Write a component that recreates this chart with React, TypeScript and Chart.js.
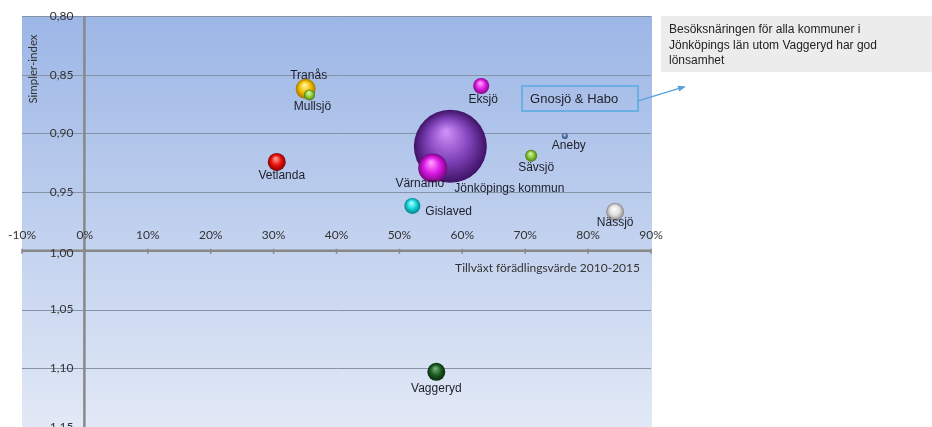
import React, { useEffect, useRef } from "react";
import { Chart, registerables } from "chart.js";

Chart.register(...registerables);

// ---- Data ----
const municipalities = [
  "Jönköpings kommun",
  "Värnamo",
  "Tranås",
  "Mullsjö",
  "Vetlanda",
  "Eksjö",
  "Aneby",
  "Sävsjö",
  "Gislaved",
  "Nässjö",
  "Vaggeryd",
];
// Tillväxt förädlingsvärde 2010-2015 (share)
const growth = [0.581, 0.553, 0.351, 0.357, 0.305, 0.63, 0.763, 0.7095, 0.5206, 0.843, 0.5587];
// Simpler-index
const simplerIndex = [0.911, 0.9295, 0.862, 0.8672, 0.9243, 0.8596, 0.9021, 0.9191, 0.9617, 0.9668, 1.103];
// Bubble size (radius)
const bubbleSize = [36.5, 14.5, 10, 5.5, 9, 8, 3, 6, 8, 9, 9];

const xTicks = [-0.1, 0, 0.1, 0.2, 0.3, 0.4, 0.5, 0.6, 0.7, 0.8, 0.9];
const yTicks = [0.8, 0.85, 0.9, 0.95, 1.0, 1.05, 1.1, 1.15];

const yAxisTitle = "Simpler-index";
const xAxisTitle = "Tillväxt förädlingsvärde 2010-2015";
const calloutText = "Gnosjö & Habo";
const noteLines = [
  "Besöksnäringen för alla kommuner i",
  "Jönköpings län utom Vaggeryd har god",
  "lönsamhet",
];

// ---- Styles ----
const palette: Record<string, [string, string, string]> = {
  "Jönköpings kommun": ["#cc8ef6", "#8244bb", "#3e1266"],
  "Värnamo": ["#ff9cff", "#dc18e6", "#76087e"],
  "Tranås": ["#fff4a8", "#f2c000", "#a37400"],
  "Mullsjö": ["#e2f8b0", "#8fcf3c", "#4b7812"],
  "Vetlanda": ["#ffa098", "#e8120c", "#860000"],
  "Eksjö": ["#ffa8ff", "#e41ee4", "#820688"],
  "Aneby": ["#c2d4ee", "#5c82b8", "#2b4a76"],
  "Sävsjö": ["#dcf7a4", "#86c43a", "#487810"],
  "Gislaved": ["#b8ffff", "#12d6da", "#067e88"],
  "Nässjö": ["#ffffff", "#dedede", "#858585"],
  "Vaggeryd": ["#78b27a", "#1c5e22", "#08280a"],
};

// label offsets relative to bubble centre: [dx, dy, align]
const labelPlacement: Record<string, [number, number, CanvasTextAlign]> = {
  "Jönköpings kommun": [59, 42, "center"],
  "Värnamo": [-13, 16, "center"],
  "Tranås": [3, -13, "center"],
  "Mullsjö": [3, 12, "center"],
  "Vetlanda": [5, 14, "center"],
  "Eksjö": [2, 14, "center"],
  "Aneby": [4, 10, "center"],
  "Sävsjö": [5, 12, "center"],
  "Gislaved": [13, 6, "left"],
  "Nässjö": [0, 11, "center"],
  "Vaggeryd": [0, 17, "center"],
};

const tickFont = '12px Lato, "Open Sans", sans-serif';
const labelFont = '12px "Liberation Sans", Arial, sans-serif';

const decorPlugin = {
  id: "decor",
  beforeDatasetsDraw(chart: any) {
    const { ctx, chartArea } = chart;
    const { left, right, top, bottom } = chartArea;
    const xs = chart.scales.x;
    const ys = chart.scales.y;
    ctx.save();
    // plot background
    const g = ctx.createLinearGradient(0, top, 0, bottom);
    g.addColorStop(0, "rgb(156,182,230)");
    g.addColorStop(1, "rgb(226,233,246)");
    ctx.fillStyle = g;
    ctx.fillRect(left, top, right - left + 1, bottom - top);

    // horizontal gridlines
    ctx.strokeStyle = "#8493a8";
    ctx.lineWidth = 1;
    yTicks.forEach((v) => {
      if (v === 1.0) return;
      const py = Math.round(ys.getPixelForValue(v)) + 0.5;
      ctx.beginPath();
      ctx.moveTo(left, py);
      ctx.lineTo(right, py);
      ctx.stroke();
    });

    // axes
    const x0 = xs.getPixelForValue(0) - 0.5;
    const y1 = ys.getPixelForValue(1.0);
    ctx.strokeStyle = "#888888";
    ctx.lineWidth = 2.5;
    ctx.beginPath();
    ctx.moveTo(x0, top);
    ctx.lineTo(x0, bottom);
    ctx.stroke();
    ctx.beginPath();
    ctx.moveTo(left, y1);
    ctx.lineTo(right, y1);
    ctx.stroke();
    // x tick marks
    ctx.lineWidth = 1.5;
    xTicks.forEach((v) => {
      const px = xs.getPixelForValue(v);
      ctx.beginPath();
      ctx.moveTo(px, y1 - 2);
      ctx.lineTo(px, y1 + 3);
      ctx.stroke();
    });

    // tick labels
    ctx.font = tickFont;
    ctx.fillStyle = "#333333";
    ctx.textBaseline = "middle";
    ctx.textAlign = "right";
    yTicks.forEach((v) => {
      const py = ys.getPixelForValue(v);
      ctx.fillText(v.toFixed(2).replace(".", ","), x0 - 11, py + (v === 1.0 ? 2 : 0));
    });
    ctx.textAlign = "center";
    xTicks.forEach((v) => {
      const px = xs.getPixelForValue(v);
      ctx.fillText(Math.round(v * 100) + "%", px, y1 - 16);
    });

    // axis titles
    ctx.fillStyle = "#333333";
    ctx.font = '11.5px Lato, "Open Sans", sans-serif';
    ctx.save();
    ctx.translate(left + 11, top + 53);
    ctx.rotate(-Math.PI / 2);
    ctx.textAlign = "center";
    ctx.fillText(yAxisTitle, 0, 0);
    ctx.restore();
    ctx.font = tickFont;
    ctx.textAlign = "right";
    ctx.fillText(xAxisTitle, right - 11, y1 + 17);
    ctx.restore();
  },
  afterDatasetsDraw(chart: any) {
    const { ctx } = chart;
    const meta = chart.getDatasetMeta(0);
    const xs = chart.scales.x;
    const ys = chart.scales.y;
    ctx.save();
    ctx.font = labelFont;
    ctx.fillStyle = "#1e1e28";
    ctx.textBaseline = "middle";
    municipalities.forEach((name, i) => {
      const el = meta.data[i];
      const [dx, dy, align] = labelPlacement[name];
      ctx.textAlign = align;
      ctx.fillText(name, el.x + dx, el.y + dy);
    });

    // callout box "Gnosjö & Habo"
    const bx = xs.getPixelForValue(0.695);
    const by = ys.getPixelForValue(0.8596);
    const bw = 116;
    const bh = 25;
    ctx.strokeStyle = "#6aaee2";
    ctx.lineWidth = 2;
    ctx.strokeRect(bx, by, bw, bh);
    ctx.font = '13px "Liberation Sans", Arial, sans-serif';
    ctx.fillStyle = "#1e1e28";
    ctx.textAlign = "left";
    ctx.fillText(calloutText, bx + 8, by + bh / 2 + 1);

    // connector arrow
    const sx = bx + bw;
    const sy = by + 15;
    const ex = sx + 46;
    const ey = sy - 14;
    ctx.strokeStyle = "#5aa2da";
    ctx.lineWidth = 1.3;
    ctx.beginPath();
    ctx.moveTo(sx, sy);
    ctx.lineTo(ex, ey);
    ctx.stroke();
    const ang = Math.atan2(ey - sy, ex - sx);
    ctx.fillStyle = "#5aa2da";
    ctx.beginPath();
    ctx.moveTo(ex + 2 * Math.cos(ang), ey + 2 * Math.sin(ang));
    ctx.lineTo(ex - 6 * Math.cos(ang) + 3 * Math.sin(ang), ey - 6 * Math.sin(ang) - 3 * Math.cos(ang));
    ctx.lineTo(ex - 6 * Math.cos(ang) - 3 * Math.sin(ang), ey - 6 * Math.sin(ang) + 3 * Math.cos(ang));
    ctx.closePath();
    ctx.fill();

    // note box
    ctx.fillStyle = "#ececec";
    ctx.fillRect(661, 16, 271, 56);
    ctx.fillStyle = "#222222";
    ctx.font = '12px "Liberation Sans", Arial, sans-serif';
    ctx.textAlign = "left";
    noteLines.forEach((line, i) => {
      ctx.fillText(line, 669, 30 + i * 15.5);
    });
    ctx.restore();
  },
};

export default function App() {
  const ref = useRef<HTMLCanvasElement>(null);

  useEffect(() => {
    document.body.style.margin = "0";
    const points = municipalities.map((_, i) => ({
      x: growth[i],
      y: simplerIndex[i],
      r: bubbleSize[i],
    }));
    const chart = new Chart(ref.current as HTMLCanvasElement, {
      type: "bubble",
      data: {
        datasets: [
          {
            label: "Kommuner",
            data: points,
            borderWidth: 0,
            hoverBorderWidth: 0,
            backgroundColor: (c: any) => {
              const name = municipalities[c.dataIndex];
              const col = palette[name] || ["#fff", "#888", "#333"];
              const chartRef = c.chart;
              const raw = c.raw;
              if (!raw || !chartRef.scales || !chartRef.scales.x || !chartRef.scales.y) return col[1];
              const px = chartRef.scales.x.getPixelForValue(raw.x);
              const py = chartRef.scales.y.getPixelForValue(raw.y);
              const r = raw.r;
              if (!Number.isFinite(px) || !Number.isFinite(py) || !Number.isFinite(r) || r <= 0) return col[1];
              const grad = chartRef.ctx.createRadialGradient(
                px - r * 0.12,
                py - r * 0.4,
                r * 0.04,
                px,
                py,
                r
              );
              grad.addColorStop(0, col[0]);
              grad.addColorStop(0.55, col[1]);
              grad.addColorStop(1, col[2]);
              return grad;
            },
          },
        ],
      },
      options: {
        animation: false,
        responsive: false,
        devicePixelRatio: 1,
        layout: { autoPadding: false, padding: { left: 22, right: 281, top: 16, bottom: 0 } },
        scales: {
          x: { type: "linear", min: -0.1, max: 0.9, display: false },
          y: { type: "linear", min: 0.8, max: 1.15, reverse: true, display: false },
        },
        plugins: {
          legend: { display: false },
          tooltip: { enabled: false },
        },
        events: [],
      },
      plugins: [decorPlugin],
    });
    return () => chart.destroy();
  }, []);

  return (
    <div style={{ position: "absolute", left: 0, top: 0, width: 932, height: 427, background: "#ffffff" }}>
      <canvas ref={ref} width={932} height={427} style={{ display: "block" }} />
    </div>
  );
}
